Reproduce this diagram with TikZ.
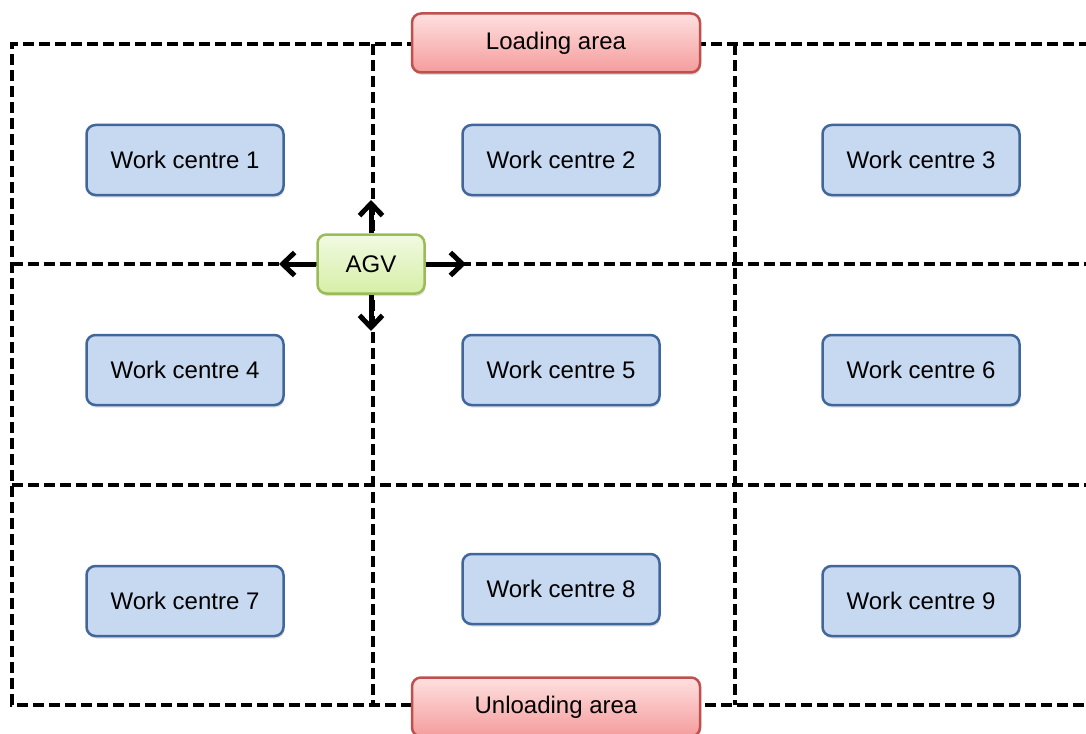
\documentclass[tikz,border=0pt]{standalone}
\usepackage{fontspec}
\usepackage{xcolor}
\setmainfont{Liberation Sans}
\usetikzlibrary{arrows.meta,shadows}

\definecolor{wcfill}{HTML}{C6D9F1}
\definecolor{wcdraw}{HTML}{41669B}
\definecolor{areatop}{HTML}{FFE0E0}
\definecolor{areabot}{HTML}{F49C9C}
\definecolor{areadraw}{HTML}{C0504D}
\definecolor{agvtop}{HTML}{F2FAE3}
\definecolor{agvbot}{HTML}{D5EFA6}
\definecolor{agvdraw}{HTML}{9BBB59}

\begin{document}
\begin{tikzpicture}[x=1pt,y=-1pt]
\tikzset{grid line/.style={line width=3.5pt,dash pattern=on 11pt off 5pt}}
\tikzset{box/.style={rounded corners=9pt,line width=2.5pt,font=\fontsize{24}{28}\selectfont,
  drop shadow={opacity=0.25,shadow xshift=1pt,shadow yshift=-2.5pt}}}
\tikzset{centre/.style={box,draw=wcdraw,fill=wcfill,minimum width=197pt,minimum height=70pt}}
\tikzset{area/.style={box,draw=areadraw,top color=areatop,bottom color=areabot,minimum width=288pt,minimum height=59pt}}
\tikzset{vehicle/.style={box,draw=agvdraw,top color=agvtop,bottom color=agvbot,minimum width=107pt,minimum height=59pt}}
\tikzset{move/.style={line width=5pt,-{Straight Barb[length=12pt,width=23pt]}}}

\useasboundingbox (0,0) rectangle (1086,733);

% dashed grid
\draw[grid line] (1090,44) -- (12,44) -- (12,705) -- (1090,705);
\draw[grid line] (373,44) -- (373,705);
\draw[grid line] (735,44) -- (735,705);
\draw[grid line] (12,264) -- (1090,264);
\draw[grid line] (12,485) -- (1090,485);

% areas
\node[area] (load) at (556,43) {Loading area};
\node[area] (unload) at (556,707) {Unloading area};

% work centres
\node[centre] (wc1) at (185,160) {Work centre 1};
\node[centre] (wc2) at (561,160) {Work centre 2};
\node[centre] (wc3) at (921,160) {Work centre 3};
\node[centre] (wc4) at (185,370) {Work centre 4};
\node[centre] (wc5) at (561,370) {Work centre 5};
\node[centre] (wc6) at (921,370) {Work centre 6};
\node[centre] (wc7) at (185,601) {Work centre 7};
\node[centre] (wc8) at (561,589) {Work centre 8};
\node[centre] (wc9) at (921,601) {Work centre 9};

% AGV and its moves
\node[vehicle] (agv) at (371,264) {AGV};
\coordinate (up) at (371,200);
\coordinate (down) at (371,331);
\coordinate (left) at (279,264);
\coordinate (right) at (466,264);
\draw[move] (agv.north) -- (up);
\draw[move] (agv.south) -- (down);
\draw[move] (agv.west) -- (left);
\draw[move] (agv.east) -- (right);

\end{tikzpicture}
\end{document}
